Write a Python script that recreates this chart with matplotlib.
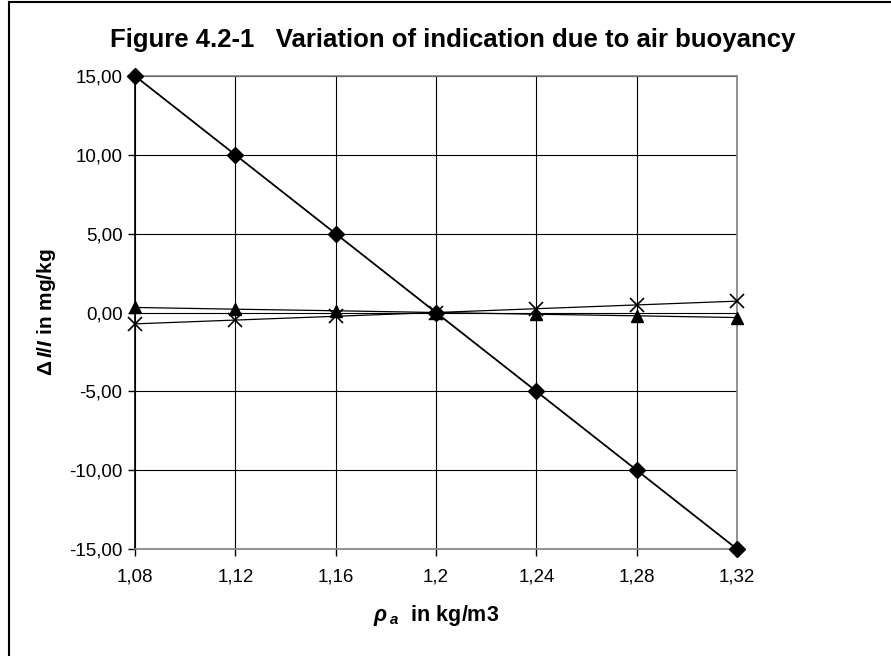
import matplotlib
matplotlib.use('Agg')
import matplotlib.pyplot as plt
from matplotlib.lines import Line2D
from matplotlib.ticker import FuncFormatter

# air density (kg/m3) and relative change of indication (mg/kg)
rho_a = [1.08, 1.12, 1.16, 1.20, 1.24, 1.28, 1.32]
x_labels = ['1,08', '1,12', '1,16', '1,2', '1,24', '1,28', '1,32']
series_diamond = [15.0, 10.0, 5.0, 0.0, -5.0, -10.0, -15.0]
series_triangle = [0.32, 0.21, 0.11, 0.0, -0.11, -0.21, -0.32]
series_cross = [-0.72, -0.48, -0.24, 0.0, 0.24, 0.48, 0.72]
y_ticks = [15, 10, 5, 0, -5, -10, -15]

plt.rcParams['font.family'] = ['Liberation Sans', 'DejaVu Sans']
plt.rcParams['mathtext.fontset'] = 'custom'
plt.rcParams['mathtext.rm'] = 'Liberation Sans:bold'
plt.rcParams['mathtext.bf'] = 'Liberation Sans:bold'
plt.rcParams['mathtext.it'] = 'Liberation Sans:bold:italic'

W, H = 891, 656
fig = plt.figure(figsize=(W / 100, H / 100), dpi=100)
ax = fig.add_axes([135 / W, 1 - 549 / H, (737 - 135) / W, (549 - 76) / H])

ax.plot(rho_a, series_triangle, color='black', linewidth=0.9, marker='^', markersize=8,
        markerfacecolor='black', markeredgecolor='black', clip_on=False, zorder=3)
ax.plot(rho_a, series_cross, color='black', linewidth=0.9, marker='x', markersize=10,
        markeredgewidth=1.2, clip_on=False, zorder=3)
ax.plot(rho_a, series_diamond, color='black', linewidth=1.3, marker='D', markersize=8,
        markerfacecolor='black', markeredgecolor='black', clip_on=False, zorder=4)

ax.set_xlim(rho_a[0], rho_a[-1])
ax.set_ylim(-15, 15)
ax.set_xticks(rho_a)
ax.set_xticklabels(x_labels)
ax.set_yticks(y_ticks)
ax.yaxis.set_major_formatter(FuncFormatter(lambda v, p: f'{v:.2f}'.replace('.', ',')))
ax.tick_params(axis='both', labelsize=13.5, length=5, width=1, color='black', direction='out')
ax.tick_params(axis='x', pad=9)
ax.tick_params(axis='y', pad=4)
ax.grid(True, color='black', linewidth=0.8)
ax.set_axisbelow(True)

for side in ['top', 'right', 'bottom']:
    ax.spines[side].set_color('#808080')
    ax.spines[side].set_linewidth(1.2)
ax.spines['left'].set_color('black')
ax.spines['left'].set_linewidth(1.2)

fig.text(47 / W, 1 - 312 / H, r'$\Delta\,I/I$ in mg/kg', rotation=90,
         ha='center', va='center', fontsize=15, fontweight='bold')
fig.text(436 / W, 1 - 615 / H, r'$\rho\,_{a}$  in kg/m3',
         ha='center', va='center', fontsize=15.5, fontweight='bold')

fig.text(453 / W, 1 - 40 / H, 'Figure 4.2-1   Variation of indication due to air buoyancy',
         ha='center', va='center', fontsize=18.5, fontweight='bold')

# outer chart border (left and top edges visible)
fig.add_artist(Line2D([9 / W, 9 / W], [0, 1 - 2 / H], color='black', linewidth=1.5))
fig.add_artist(Line2D([9 / W, 1], [1 - 2 / H, 1 - 2 / H], color='black', linewidth=1.5))

fig.savefig('out.png', dpi=100)
